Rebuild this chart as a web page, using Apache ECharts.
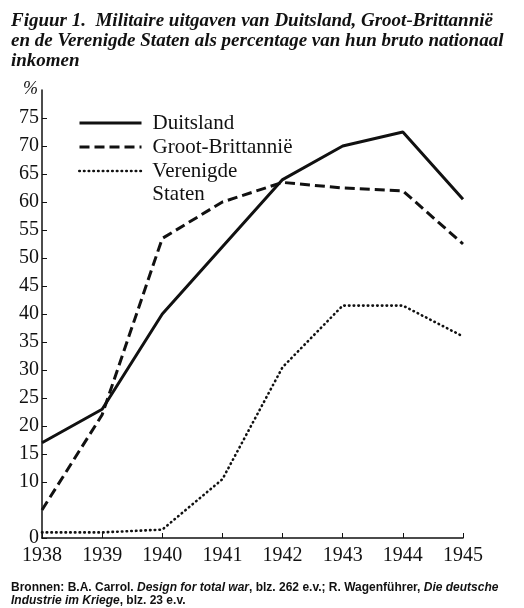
<!DOCTYPE html>
<html>
<head>
<meta charset="utf-8">
<script src="https://cdn.jsdelivr.net/npm/echarts@6/dist/echarts.min.js"></script>
<style>
html,body{margin:0;padding:0;background:#fff;}
#chart{width:524px;height:608px;}
</style>
</head>
<body>
<div id="chart"></div>
<script>
const years = ['1938','1939','1940','1941','1942','1943','1944','1945'];
const duitsland = [17, 23, 40, 52, 64, 70, 72.5, 60.5];
const grootBrittannie = [5, 22, 53.5, 60, 63.5, 62.5, 62, 52.5];
const verenigdeStaten = [1, 1, 1.5, 10.5, 30.5, 41.5, 41.5, 36];
const yTickLabels = [0, 10, 15, 20, 25, 30, 35, 40, 45, 50, 55, 60, 65, 70, 75];

const titleText = 'Figuur 1.  Militaire uitgaven van Duitsland, Groot-Brittannië\nen de Verenigde Staten als percentage van hun bruto nationaal\ninkomen';

const serif = '"Liberation Serif", "Times New Roman", serif';
const sans = '"Liberation Sans", Arial, sans-serif';
const chart = echarts.init(document.getElementById('chart'), null, {renderer: 'canvas'});

const seriesStyles = {
  'Duitsland': {color: '#111', width: 3, type: 'solid'},
  'Groot-Brittannië': {color: '#111', width: 3, type: [10, 5]},
  'Verenigde Staten': {color: '#111', width: 2.6, type: [0.5, 4.2], cap: 'round'}
};

function legendFor(name, top, formatter) {
  return {
    orient: 'vertical',
    left: 78,
    top: top,
    padding: 0,
    itemWidth: 62,
    itemHeight: 14,
    itemGap: 0,
    itemStyle: {opacity: 0},
    lineStyle: seriesStyles[name],
    textStyle: {fontFamily: serif, fontSize: 21, lineHeight: 23, color: '#111', padding: [0, 0, 0, 6]},
    formatter: formatter,
    data: [name]
  };
}

chart.setOption({
  backgroundColor: '#ffffff',
  animation: false,
  title: [{
    text: titleText,
    left: 6,
    top: 6,
    textStyle: {
      fontFamily: serif,
      fontStyle: 'italic',
      fontWeight: 'bold',
      fontSize: 19,
      lineHeight: 20,
      color: '#111'
    }
  }, {
    text: '{n|Bronnen: B.A. Carrol. }{i|Design for total war}{n|, blz. 262 e.v.; R. Wagenführer, }{i|Die deutsche}\n{i|Industrie im Kriege}{n|, blz. 23 e.v.}',
    left: 6,
    top: 576,
    textStyle: {
      rich: {
        n: {fontFamily: sans, fontSize: 12, lineHeight: 13, color: '#111'},
        i: {fontFamily: sans, fontSize: 12, lineHeight: 13, fontStyle: 'italic', color: '#111'}
      }
    }
  }],
  legend: [
    legendFor('Duitsland', 111.5, '{name}'),
    legendFor('Groot-Brittannië', 135.5, '{name}'),
    legendFor('Verenigde Staten', 136.5, function () { return '\nVerenigde\nStaten'; })
  ],
  grid: {left: 42, right: 61, top: 90, bottom: 70, containLabel: false},
  xAxis: {
    type: 'category',
    data: years,
    boundaryGap: false,
    axisLine: {lineStyle: {color: '#111', width: 1.5}},
    axisTick: {inside: true, length: 5, lineStyle: {color: '#111'}},
    axisLabel: {fontFamily: serif, fontSize: 20, color: '#111', margin: 8}
  },
  yAxis: {
    type: 'value',
    min: 0,
    max: 80,
    interval: 5,
    name: '%',
    nameLocation: 'end',
    nameGap: -8,
    nameTextStyle: {fontFamily: serif, fontStyle: 'italic', fontSize: 18, color: '#111', align: 'right', padding: [0, 4, 0, 0]},
    splitLine: {show: false},
    axisLine: {show: true, lineStyle: {color: '#111', width: 1.5}},
    axisTick: {show: true, inside: true, length: 5, customValues: yTickLabels, lineStyle: {color: '#111'}},
    axisLabel: {fontFamily: serif, fontSize: 20, color: '#111', margin: 3, customValues: yTickLabels}
  },
  series: [{
    name: 'Duitsland',
    type: 'line',
    data: duitsland,
    symbol: 'none',
    lineStyle: seriesStyles['Duitsland'],
    itemStyle: {color: '#111'}
  }, {
    name: 'Groot-Brittannië',
    type: 'line',
    data: grootBrittannie,
    symbol: 'none',
    lineStyle: seriesStyles['Groot-Brittannië'],
    itemStyle: {color: '#111'}
  }, {
    name: 'Verenigde Staten',
    type: 'line',
    data: verenigdeStaten,
    symbol: 'none',
    lineStyle: seriesStyles['Verenigde Staten'],
    itemStyle: {color: '#111'}
  }]
});
</script>
</body>
</html>
